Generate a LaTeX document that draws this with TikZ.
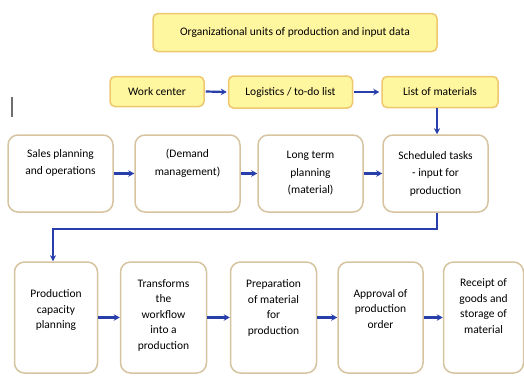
\documentclass[tikz,border=0pt]{standalone}
\usepackage{fontspec}
\setmainfont{Carlito}
\usetikzlibrary{arrows.meta}
\definecolor{yfill}{RGB}{255,246,160}
\definecolor{ydraw}{RGB}{238,200,110}
\definecolor{wdraw}{RGB}{214,196,160}
\definecolor{arrowblue}{RGB}{40,62,170}
\definecolor{linegray}{RGB}{110,110,110}
\tikzset{
  x=1pt, y=-1pt,
  ybox/.style={draw=ydraw, line width=1.5pt, fill=yfill, rounded corners=5pt, align=center, inner sep=0pt, font=\fontsize{11.5}{14}\selectfont},
  wbox/.style={draw=wdraw, line width=1.5pt, fill=white, rounded corners=10pt, align=center, inner sep=0pt, font=\fontsize{11.5}{17.5}\selectfont},
  tbox/.style={draw=wdraw, line width=1.5pt, fill=white, rounded corners=10pt, inner sep=0pt},
  ttext/.style={align=center, inner sep=0pt, font=\fontsize{11.5}{15.5}\selectfont},
  flow/.style={draw=arrowblue, line width=2.2pt, -{Stealth[length=6pt,width=6.5pt]}},
  link/.style={draw=arrowblue, line width=1.4pt, -{Stealth[length=6pt,width=6pt]}}
}
\begin{document}
\begin{tikzpicture}
\useasboundingbox (0,0) rectangle (524,376);
% top
\node[ybox, minimum width=284pt, minimum height=38pt] (org) at (295,32.5) {Organizational units of production and input data};
% row 2
\node[ybox, minimum width=94pt, minimum height=30pt] (wc) at (157,91.5) {Work center};
\node[ybox, minimum width=124pt, minimum height=32pt] (log) at (290.5,92) {Logistics / to-do list};
\node[ybox, minimum width=116pt, minimum height=31pt] (lom) at (440,92) {List of materials};
\draw[flow] ([xshift=1pt]wc.east) -- ([xshift=-1pt]log.west);
\draw[flow] ([xshift=1pt]log.east) -- ([xshift=-2pt]lom.west);
% stray mark
\draw[linegray, line width=1.2pt] (12,97) coordinate (m1) -- (12,117) coordinate (m2);
% row 3
\node[wbox, minimum width=105pt, minimum height=77pt] (sp) at (60.5,173.5) {Sales planning\\and operations\\\strut};
\node[wbox, minimum width=105pt, minimum height=77pt] (dm) at (187.5,173.5) {(Demand\\management)\\\strut};
\node[wbox, minimum width=105pt, minimum height=77pt] (lt) at (310.5,173.5) {Long term\\planning\\(material)};
\node[wbox, minimum width=105pt, minimum height=77pt] (st) at (435.5,173.5) {Scheduled tasks\\- input for\\production};
\draw[flow] (sp) -- (dm);
\draw[flow] (dm) -- (lt);
\draw[flow] (lt) -- (st);
\draw[link] (lom.south -| 437,0) -- (st.north -| 437,0);
% row 4
\node[tbox, minimum width=83pt, minimum height=111pt] (pc) at (56,317.5) {};
\node[tbox, minimum width=86pt, minimum height=111pt] (tw) at (163.5,317.5) {};
\node[tbox, minimum width=86pt, minimum height=111pt] (pm) at (273.5,317.5) {};
\node[tbox, minimum width=85pt, minimum height=111pt] (ap) at (380.5,317.5) {};
\node[tbox, minimum width=80pt, minimum height=111pt] (rg) at (483.5,317.5) {};
\node[ttext] (pct) at (56,310) {Production\\capacity\\planning};
\node[ttext] (twt) at (163.5,315) {Transforms\\the\\workflow\\into a\\production};
\node[ttext] (pmt) at (273.5,308) {Preparation\\of material\\for\\production};
\node[ttext] (apt) at (380.5,309) {Approval of\\production\\order};
\node[ttext] (rgt) at (483.5,306) {Receipt of\\goods and\\storage of\\material};
\draw[flow] (pc) -- (tw);
\draw[flow] (tw) -- (pm);
\draw[flow] (pm) -- (ap);
\draw[flow] (ap) -- (rg);
\draw[link] (st.south -| 437,0) |- (53,229) -- (pc.north -| 53,0);
\end{tikzpicture}
\end{document}
